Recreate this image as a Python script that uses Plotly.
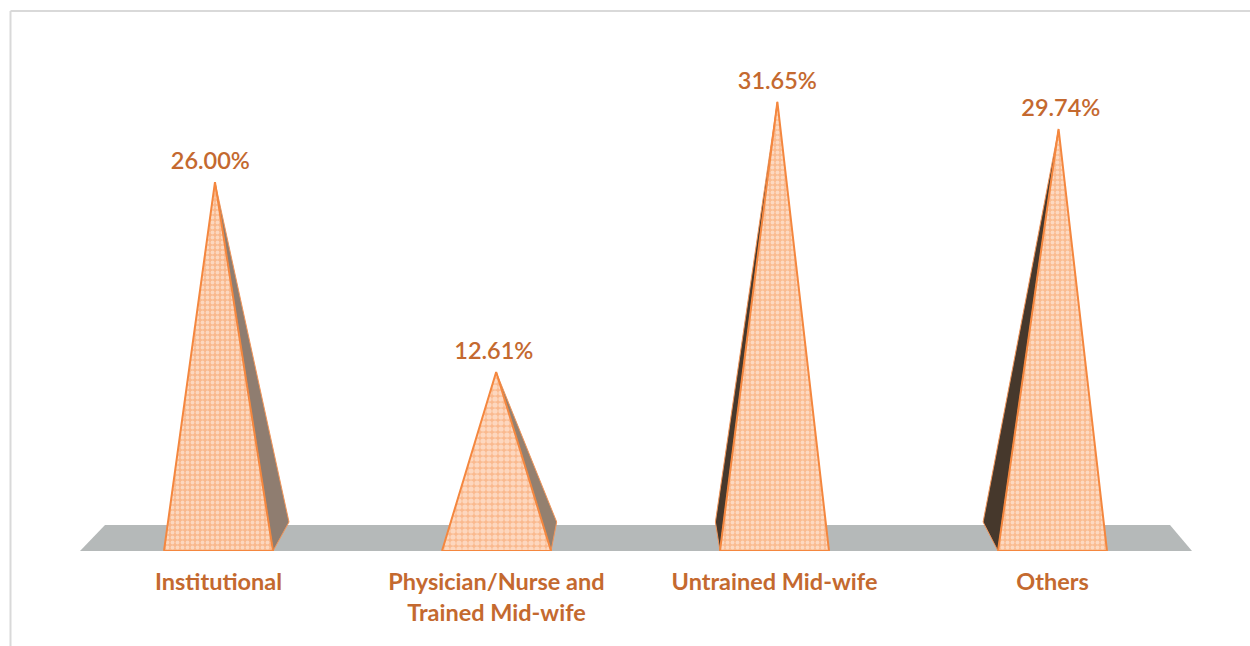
import plotly.graph_objects as go

# ---- data ----
categories = ["Institutional", "Physician/Nurse and<br>Trained Mid-wife", "Untrained Mid-wife", "Others"]
values = [26.00, 12.61, 31.65, 29.74]
value_labels = ["26.00%", "12.61%", "31.65%", "29.74%"]

# ---- geometry / style ----
W, H = 1250, 646
BASE_PX = 551          # pixel row of value 0
PX_PER_VALUE = 14.19
PX_PER_CAT = 278.0
FIRST_CAT_PX = 218.5
HALF_BASE = 54.5 / PX_PER_CAT
BACK_RISE = 29 / PX_PER_VALUE
FLOOR_RISE = 26 / PX_PER_VALUE
LABEL_LIFT = 7 / PX_PER_VALUE
ORANGE = "#f4873f"
TEXT = "#c4692f"
FONT = "Lato"
FONT_SIZE = 23.5


def px(x):
    return x / PX_PER_CAT


def tip_shift(i):       # perspective lean of the apex
    return px((i - 1.1) * 3.2)


def back_shift(i):      # perspective of the visible side face
    return px(16 - 10.3 * i)


def label_shift(i):     # value labels drift from the apex
    return px((i - 2) * 2.3)


side_colors = ["#8f7d70", "#94806f", "#46382c", "#46382c"]
pattern_bg = ["#f9b88c", "#fab98e", "#fabb90", "#fabb90"]
pattern_solid = [0.45, 0.6, 0.45, 0.45]
pattern_size = [5, 6, 5, 5]

fig = go.Figure()

# floor
fl_l = (80 - FIRST_CAT_PX) / PX_PER_CAT
fl_r = (1192 - FIRST_CAT_PX) / PX_PER_CAT
fig.add_trace(go.Scatter(
    x=[fl_l, fl_l + px(25), fl_r - px(22), fl_r, fl_l], y=[0, FLOOR_RISE, FLOOR_RISE, 0, 0],
    mode="lines", fill="toself", fillcolor="#b5b9b9", line=dict(width=0), hoverinfo="skip", showlegend=False))

for i, v in enumerate(values):
    tip = i + tip_shift(i)
    bs = back_shift(i)
    corner = i + HALF_BASE if bs > 0 else i - HALF_BASE
    # side face
    fig.add_trace(go.Scatter(
        x=[tip, corner + bs, corner, tip], y=[v, BACK_RISE, 0, v],
        mode="lines", fill="toself", fillcolor=side_colors[i],
        line=dict(color="#f0955a", width=1), hoverinfo="skip", showlegend=False))
    # front face
    fig.add_trace(go.Scatter(
        x=[i - HALF_BASE, tip, i + HALF_BASE, i - HALF_BASE], y=[0, v, 0, 0],
        mode="lines", fill="toself", fillcolor=pattern_bg[i],
        fillpattern=dict(shape=".", bgcolor=pattern_bg[i], fgcolor="#fff6ef",
                         size=pattern_size[i], solidity=pattern_solid[i]),
        line=dict(color=ORANGE, width=2), hoverinfo="skip", showlegend=False))

# value labels
fig.add_trace(go.Scatter(
    x=[i + tip_shift(i) + label_shift(i) for i in range(len(values))],
    y=[v + LABEL_LIFT for v in values], text=value_labels,
    mode="text", textposition="top center", cliponaxis=False,
    textfont=dict(family=FONT, size=FONT_SIZE, color=TEXT, weight=600), hoverinfo="skip", showlegend=False))

fig.update_layout(
    width=W, height=H, margin=dict(l=0, r=0, t=0, b=H - BASE_PX),
    paper_bgcolor="white", plot_bgcolor="rgba(0,0,0,0)", showlegend=False,
    xaxis=dict(range=[-FIRST_CAT_PX / PX_PER_CAT, (W - FIRST_CAT_PX) / PX_PER_CAT],
               tickmode="array", tickvals=list(range(len(categories))), ticktext=categories,
               tickfont=dict(family=FONT, size=FONT_SIZE, color=TEXT, weight=700),
               ticks="outside", ticklen=10, tickcolor="rgba(0,0,0,0)", showgrid=False, zeroline=False, showline=False),
    yaxis=dict(range=[0, BASE_PX / PX_PER_VALUE], visible=False),
    shapes=[
        dict(type="line", xref="paper", yref="paper", x0=10.5 / W, x1=1, y0=1 - 11 / BASE_PX, y1=1 - 11 / BASE_PX,
             line=dict(color="#d9d9d9", width=2)),
        dict(type="line", xref="paper", yref="paper", x0=10.5 / W, x1=10.5 / W, y0=1 - 11 / BASE_PX, y1=1 - H / BASE_PX,
             line=dict(color="#d9d9d9", width=2)),
    ],
)
# the page's default 8px body margin would offset the whole figure
fig.write_html("out.html", config=dict(displayModeBar=False),
               post_script="document.body.style.margin='0';document.body.style.overflow='hidden';")
